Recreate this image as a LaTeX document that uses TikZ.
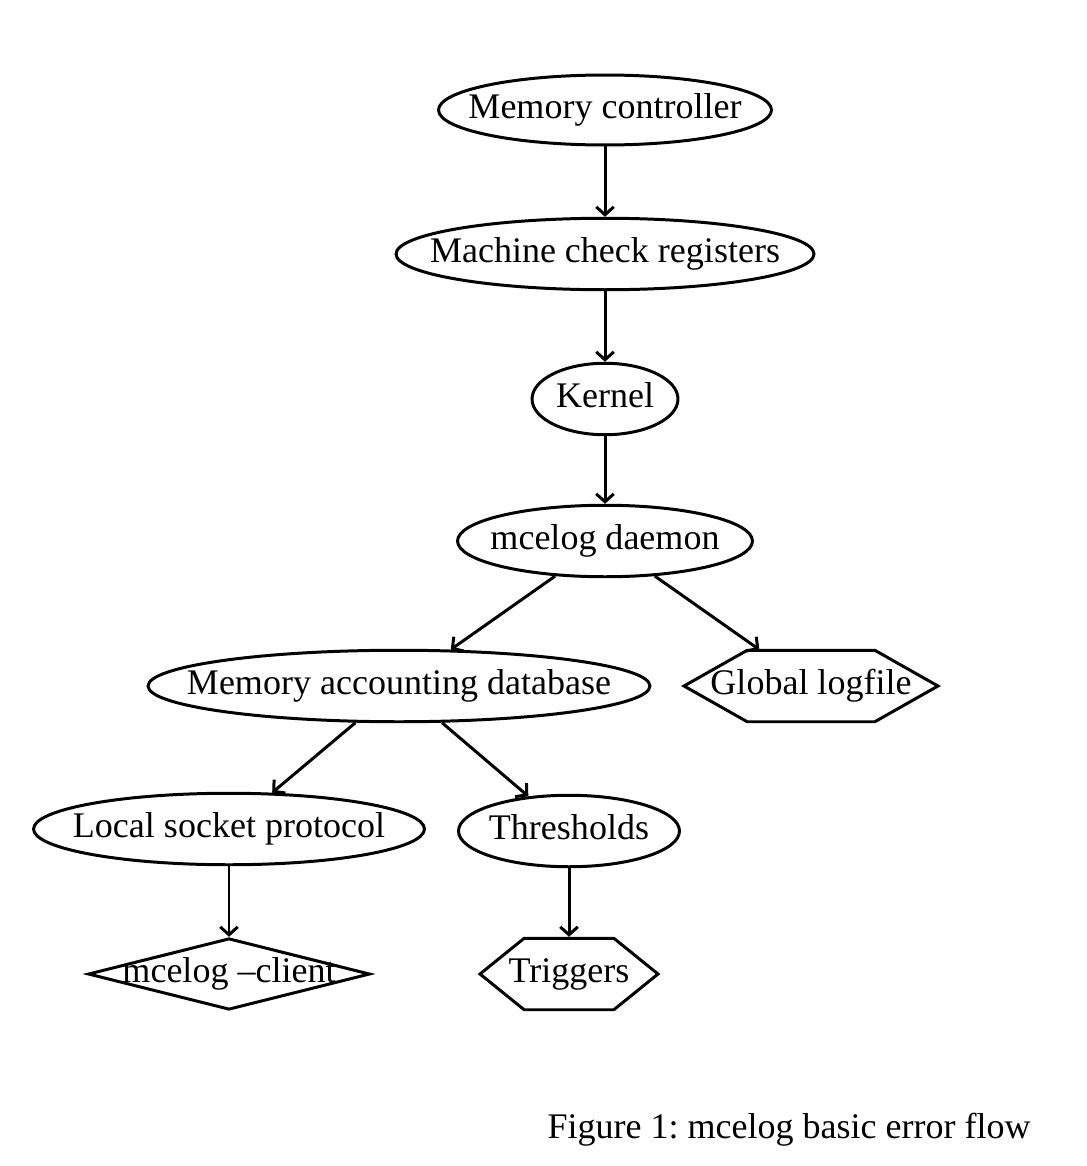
\documentclass[tikz,border=0pt]{standalone}
\usepackage{fontspec}
\setmainfont{Liberation Serif}
\usepackage{tikz}
\usetikzlibrary{shapes.geometric, shapes.symbols, arrows.meta}
\newcommand{\gvlabel}[1]{\makebox[0pt]{#1}}
\frenchspacing

\begin{document}
\begin{tikzpicture}[x=0.02cm, y=-0.02cm,
    every node/.style={font=\fontsize{20.5}{24}\selectfont, line width=1.7pt,
      inner sep=0pt, text height=1.15em, text depth=0.2em, minimum height=1.43cm},
    proc/.style={draw, ellipse},
    hexa/.style={draw, signal, signal to=east and west},
    choice/.style={draw, diamond},
    flow/.style={line width=1.7pt, -{Straight Barb[length=4.5pt, width=10pt]}}]
    \useasboundingbox (0,0) rectangle (1086,1166);

    % Nodes
    \node[proc, minimum width=6.66cm, minimum height=1.4cm] (mc) at (605,110) {\gvlabel{Memory controller}};
    \node[proc, minimum width=8.36cm] (mcr) at (605,254) {\gvlabel{Machine check registers}};
    \node[proc, minimum width=2.92cm] (kernel) at (605,399) {\gvlabel{Kernel}};
    \node[proc, minimum width=5.9cm] (daemon) at (605,541) {\gvlabel{mcelog daemon}};
    \node[proc, minimum width=10.04cm] (db) at (399,686) {\gvlabel{Memory accounting database}};
    \node[hexa, minimum width=5.08cm, signal pointer angle=59] (logfile) at (811,686) {\gvlabel{Global logfile}};
    \node[proc, minimum width=7.82cm] (socket) at (229,829) {\gvlabel{Local socket protocol}};
    \node[proc, minimum width=4.42cm] (thresh) at (569,831) {\gvlabel{Thresholds}};
    \node[choice, minimum width=5.64cm] (client) at (229,974) {\gvlabel{mcelog –client}};
    \node[hexa, minimum width=3.56cm, signal pointer angle=78] (trig) at (569,974) {\gvlabel{Triggers}};

    % Caption
    \node[anchor=base west, minimum height=0pt] (caption) at (546,1138) {Figure 1: mcelog basic error flow};

    % Edges
    \draw[flow] (mc) -- (mcr);
    \draw[flow] (mcr) -- (kernel);
    \draw[flow] (kernel) -- (daemon);
    \draw[flow] (daemon) -- (db);
    \draw[flow] (daemon) -- (logfile);
    \draw[flow] (db) -- (socket);
    \draw[flow] (db) -- (thresh);
    \draw[flow] (socket) -- (client);
    \draw[flow] (thresh) -- (trig);
\end{tikzpicture}
\end{document}
